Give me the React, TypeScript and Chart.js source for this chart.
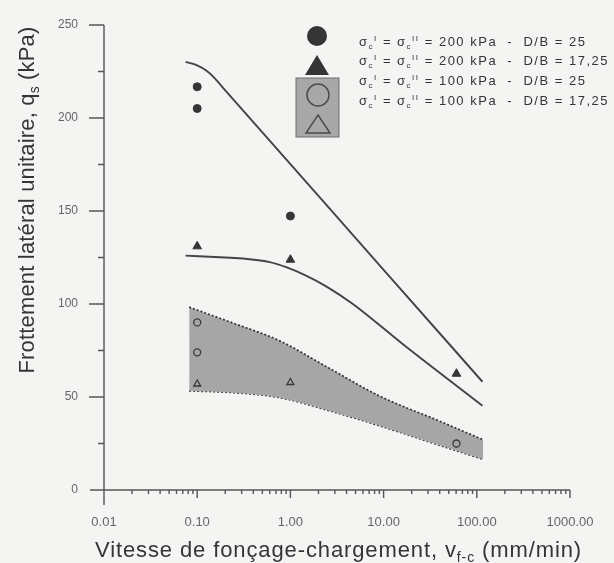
import React, { useEffect, useRef } from 'react';
import { Chart, registerables } from 'chart.js';

Chart.register(...registerables);

// ---- tick labels ----
const xTickLabels = ['0.01', '0.10', '1.00', '10.00', '100.00', '1000.00'];
const yTickValues = [0, 50, 100, 150, 200, 250];

// ---- measured points ----
const circ200X = [0.1, 0.1, 1.0];
const circ200Y = [216.8, 205.1, 147.3];
const tri200X = [0.1, 1.0, 60.5];
const tri200Y = [131, 123.8, 62.5];
const circ100X = [0.1, 0.1, 60.5];
const circ100Y = [90.1, 74, 25];
const tri100X = [0.1, 1.0];
const tri100Y = [57, 57.8];

// ---- fitted curves ----
const fit25X = [0.075, 0.1, 0.125, 0.15, 0.2, 1, 10, 115];
const fit25Y = [230.2, 228.3, 225.5, 222.0, 214.9, 175.2, 118.4, 58.2];
const fit1725X = [0.075, 0.2, 0.33, 0.6, 0.9, 1.47, 2.42, 4.68, 16, 115];
const fit1725Y = [126, 125, 124.3, 122.5, 119.8, 115.3, 109.5, 100, 78.5, 45.3];

// ---- shaded band (100 kPa) ----
const bandX = [0.082, 0.25, 0.76, 2.62, 9.06, 40, 117];
const bandUpper = [98.3, 89.5, 80.3, 65.4, 50.5, 37, 27];
const bandLower = [53.3, 52.3, 49.7, 42.6, 34.5, 24, 16.5];

// ---- legend ----
const legendStress = ['200', '200', '100', '100'];
const legendDB = ['25', '17,25', '25', '17,25'];

const FAMILY = '"Liberation Sans", Arial, Helvetica, sans-serif';
const DARK = '#353535';

type Run = [string, number, number];

function runsWidth(ctx: CanvasRenderingContext2D, runs: Run[]) {
  let w = 0;
  for (const [t, s] of runs) {
    ctx.font = `${s}px ${FAMILY}`;
    w += ctx.measureText(t).width;
  }
  return w;
}
function runsChars(runs: Run[]) {
  return runs.reduce((a, r) => a + r[0].length, 0);
}
function drawRuns(ctx: CanvasRenderingContext2D, runs: Run[], x: number, y: number) {
  let cx = x;
  for (const [t, s, dy] of runs) {
    ctx.font = `${s}px ${FAMILY}`;
    ctx.fillText(t, cx, y + dy);
    cx += ctx.measureText(t).width;
  }
}
function fitSpacing(ctx: any, runs: Run[], target: number) {
  ctx.letterSpacing = '0px';
  const w0 = runsWidth(ctx, runs);
  const ls = (target - w0) / runsChars(runs);
  ctx.letterSpacing = ls + 'px';
  return ls;
}

const bgPlugin = {
  id: 'bg',
  beforeDraw(chart: any) {
    const { ctx, width, height } = chart;
    ctx.save();
    ctx.fillStyle = '#f4f4f3';
    ctx.fillRect(0, 0, width, height);
    ctx.restore();
  },
};

const axesPlugin = {
  id: 'axesDraw',
  beforeDatasetsDraw(chart: any) {
    const { ctx } = chart;
    const x = chart.scales.x;
    const y = chart.scales.y;
    const left = x.getPixelForValue(0.01);
    const right = x.getPixelForValue(1000);
    const bottom = y.getPixelForValue(0);
    const top = y.getPixelForValue(250);
    ctx.save();
    ctx.strokeStyle = '#555';
    ctx.lineWidth = 1.4;
    ctx.beginPath();
    ctx.moveTo(left, top);
    ctx.lineTo(left, bottom + 15);
    ctx.moveTo(left - 14, bottom);
    ctx.lineTo(right, bottom);
    for (let v = 25; v <= 250; v += 25) {
      const py = y.getPixelForValue(v);
      const major = yTickValues.includes(v);
      ctx.moveTo(left - (major ? 15 : 6), py);
      ctx.lineTo(left, py);
    }
    for (let e = -2; e <= 3; e++) {
      for (let m = 1; m <= 9; m++) {
        const v = m * Math.pow(10, e);
        if (v > 1000.0001) break;
        const px = x.getPixelForValue(v);
        ctx.moveTo(px, bottom);
        ctx.lineTo(px, bottom + (m === 1 ? 8 : 4));
      }
    }
    ctx.stroke();
    ctx.restore();
  },
};

const textPlugin = {
  id: 'texts',
  afterDraw(chart: any) {
    const ctx = chart.ctx as any;
    ctx.save();
    ctx.fillStyle = DARK;
    ctx.textBaseline = 'alphabetic';
    ctx.textAlign = 'left';

    // Legend symbols
    ctx.fillStyle = '#a8a8a8';
    ctx.fillRect(296, 78, 43, 59);
    ctx.strokeStyle = '#6f6f6f';
    ctx.lineWidth = 1;
    ctx.strokeRect(296, 78, 43, 59);

    ctx.fillStyle = DARK;
    ctx.beginPath();
    ctx.arc(317, 36, 10, 0, Math.PI * 2);
    ctx.fill();
    ctx.beginPath();
    ctx.moveTo(317, 55);
    ctx.lineTo(329, 75);
    ctx.lineTo(305, 75);
    ctx.closePath();
    ctx.fill();

    ctx.strokeStyle = '#4a4a4a';
    ctx.lineWidth = 1.5;
    ctx.beginPath();
    ctx.arc(318, 95, 11, 0, Math.PI * 2);
    ctx.stroke();
    ctx.beginPath();
    ctx.moveTo(318, 115);
    ctx.lineTo(330, 133);
    ctx.lineTo(306, 133);
    ctx.closePath();
    ctx.stroke();

    // Legend text
    ctx.fillStyle = '#353535';
    const rowY = [46, 65, 85, 105];
    const mkRuns = (i: number): Run[] => [
      ['σ', 13, 0], ['c', 8, 3], ['I', 8, -5],
      [' = σ', 13, 0], ['c', 8, 3], ['II', 8, -5],
      [` = ${legendStress[i]} kPa  -  D/B = ${legendDB[i]}`, 13, 0],
    ];
    fitSpacing(ctx, mkRuns(1), 250);
    for (let i = 0; i < 4; i++) drawRuns(ctx, mkRuns(i), 359, rowY[i]);

    // X title
    ctx.fillStyle = DARK;
    const xRuns: Run[] = [['Vitesse de fonçage-chargement, v', 22, 0], ['f-c', 14, 5], [' (mm/min)', 22, 0]];
    fitSpacing(ctx, xRuns, 487);
    drawRuns(ctx, xRuns, 95, 557);

    // Y title
    const yRuns: Run[] = [['Frottement latéral unitaire, q', 22, 0], ['s', 14, 5], [' (kPa)', 22, 0]];
    fitSpacing(ctx, yRuns, 347);
    ctx.translate(34, 200);
    ctx.rotate(-Math.PI / 2);
    drawRuns(ctx, yRuns, -347 / 2, 0);
    ctx.restore();
  },
};

const pts = (xs: number[], ys: number[]) => xs.map((x, i) => ({ x, y: ys[i] }));

export default function App() {
  const ref = useRef<HTMLCanvasElement>(null);
  useEffect(() => {
    const canvas = ref.current!;
    const chart = new Chart(canvas, {
      type: 'line',
      data: {
        datasets: [
          { label: 'c200', data: pts(circ200X, circ200Y), showLine: false, pointStyle: 'circle', pointRadius: 4, pointBackgroundColor: DARK, pointBorderColor: DARK, pointBorderWidth: 1 },
          { label: 't200', data: pts(tri200X, tri200Y), showLine: false, pointStyle: 'triangle', pointRadius: 5, pointBackgroundColor: DARK, pointBorderColor: DARK, pointBorderWidth: 1 },
          { label: 'c100', data: pts(circ100X, circ100Y), showLine: false, pointStyle: 'circle', pointRadius: 3.5, pointBackgroundColor: 'rgba(0,0,0,0)', pointBorderColor: '#3a3a3a', pointBorderWidth: 1.3 },
          { label: 't100', data: pts(tri100X, tri100Y), showLine: false, pointStyle: 'triangle', pointRadius: 4, pointBackgroundColor: 'rgba(0,0,0,0)', pointBorderColor: '#3a3a3a', pointBorderWidth: 1.3 },
          { label: 'fit25', data: pts(fit25X, fit25Y), borderColor: '#444', borderWidth: 1.9, pointRadius: 0, fill: false, cubicInterpolationMode: 'monotone' },
          { label: 'fit1725', data: pts(fit1725X, fit1725Y), borderColor: '#444', borderWidth: 1.9, pointRadius: 0, fill: false, cubicInterpolationMode: 'monotone' },
          { label: 'bandUp', data: pts(bandX, bandUpper), borderColor: '#333', borderWidth: 1.7, borderDash: [2, 2], pointRadius: 0, backgroundColor: '#a6a6a6', fill: '+1', cubicInterpolationMode: 'monotone' },
          { label: 'bandLo', data: pts(bandX, bandLower), borderColor: '#333', borderWidth: 1.7, borderDash: [2, 2], pointRadius: 0, fill: false, cubicInterpolationMode: 'monotone' },
        ] as any,
      },
      options: {
        animation: false,
        responsive: false,
        devicePixelRatio: 1,
        layout: { padding: { left: 0, top: 25, right: 44, bottom: 0 } },
        plugins: { legend: { display: false }, tooltip: { enabled: false } },
        events: [],
        scales: {
          x: {
            type: 'logarithmic',
            min: 0.01,
            max: 1000,
            grid: { display: false, drawTicks: false },
            border: { display: false },
            ticks: {
              autoSkip: false,
              maxRotation: 0,
              minRotation: 0,
              padding: 25,
              color: '#666',
              font: { size: 13, family: FAMILY },
              callback: (v: any) => {
                const l = Math.log10(Number(v));
                const r = Math.round(l);
                return Math.abs(l - r) < 1e-6 && r >= -2 && r <= 3 ? xTickLabels[r + 2] : '';
              },
            },
            afterFit: (s: any) => { s.height = 73; s.paddingLeft = 0; s.paddingRight = 0; },
          },
          y: {
            type: 'linear',
            min: 0,
            max: 250,
            grid: { display: false, drawTicks: false },
            border: { display: false },
            ticks: {
              stepSize: 50,
              padding: 26,
              color: '#666',
              font: { size: 12, family: FAMILY },
              callback: (v: any) => (yTickValues.includes(Number(v)) ? String(v) : ''),
            },
            afterFit: (s: any) => { s.width = 104; s.paddingTop = 0; s.paddingBottom = 0; },
          },
        },
      } as any,
      plugins: [bgPlugin, axesPlugin, textPlugin],
    });
    return () => chart.destroy();
  }, []);
  return (
    <div style={{ position: 'absolute', left: 0, top: 0, width: 614, height: 563 }}>
      <canvas ref={ref} width={614} height={563} style={{ display: 'block' }} />
    </div>
  );
}
